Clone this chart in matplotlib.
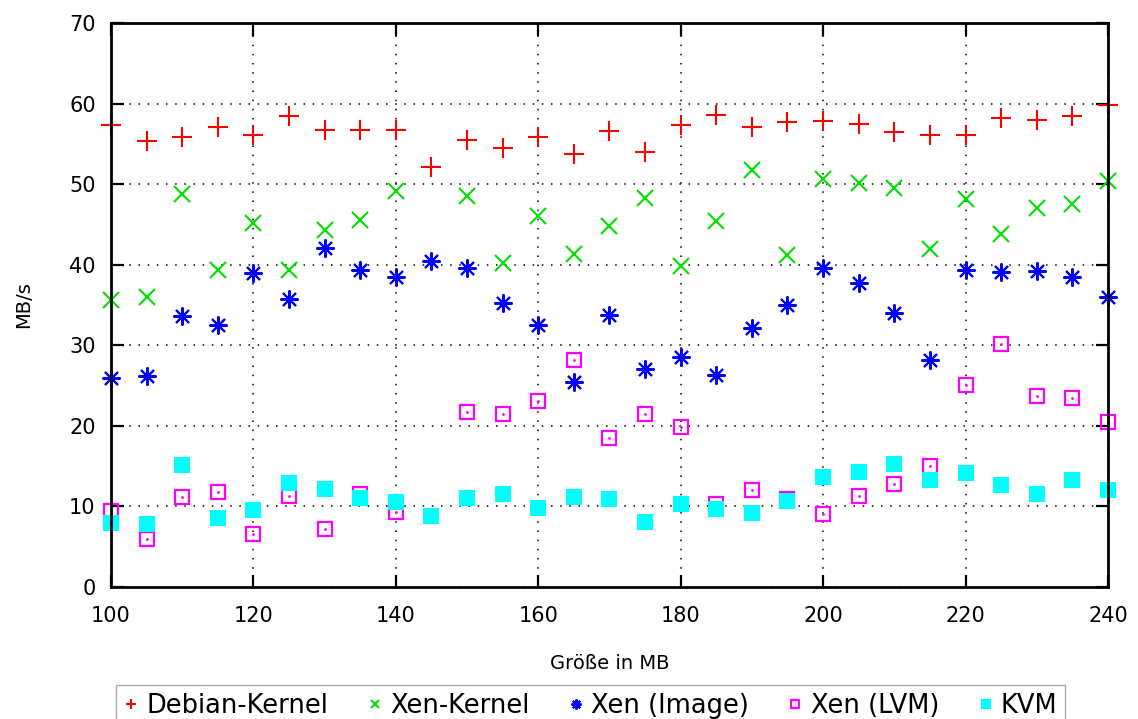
import numpy as np
import matplotlib
matplotlib.use("Agg")
import matplotlib.pyplot as plt

# Daten (MB/s je Dateigroesse)
groesse = list(range(100, 245, 5))

debian_kernel = [57.3, 55.4, 55.9, 57.1, 56.1, 58.4, 56.7, 56.7, 56.7, 52.1,
                 55.5, 54.5, 55.8, 53.8, 56.6, 54.0, 57.3, 58.6, 57.1, 57.7,
                 57.8, 57.5, 56.5, 56.1, 56.1, 58.2, 58.0, 58.4, 59.8]
xen_kernel = [35.6, 36.0, 48.8, 39.3, 45.2, 39.3, 44.3, 45.5, 49.2, np.nan,
              48.5, 40.2, 46.0, 41.3, 44.8, 48.3, 39.9, 45.4, 51.7, 41.2,
              50.7, 50.2, 49.5, 41.9, 48.1, 43.8, 47.1, 47.5, 50.4]
xen_image = [26.0, 26.2, 33.6, 32.5, 39.0, 35.8, 42.1, 39.4, 38.5, 40.4,
             39.6, 35.2, 32.5, 25.4, 33.7, 27.0, 28.6, 26.3, 32.1, 35.0,
             39.6, 37.7, 34.0, 28.2, 39.4, 39.1, 39.2, 38.5, 36.0]
xen_lvm = [9.4, 6.0, 11.2, 11.8, 6.6, 11.3, 7.2, 11.5, 9.3, np.nan,
           21.7, 21.5, 23.1, 28.2, 18.5, 21.5, 19.8, 10.3, 12.1, 10.9,
           9.0, 11.3, 12.8, 15.0, 25.1, 30.2, 23.7, 23.4, 20.5]
kvm = [8.0, 7.8, 15.1, 8.6, 9.6, 12.9, 12.2, 11.0, 10.5, 8.8,
       11.0, 11.5, 9.8, 11.2, 10.9, 8.1, 10.3, 9.7, 9.2, 10.7,
       13.7, 14.3, 15.3, 13.3, 14.1, 12.6, 11.6, 13.3, 12.1]

fig = plt.figure(figsize=(11.38, 7.19), dpi=100)
ax = fig.add_axes([0.0975, 0.1836, 0.8761, 0.7844])

kw = dict(linestyle="none", clip_on=False)
ax.plot(groesse, debian_kernel, marker="+", color="#ff0000", ms=14, mew=1.5,
        label="Debian-Kernel", **kw)
ax.plot(groesse, xen_kernel, marker="x", color="#00e000", ms=11, mew=1.5,
        label="Xen-Kernel", **kw)
ax.plot(groesse, xen_image, marker=(8, 2, 0), color="#0000ff", ms=13, mew=1.5,
        label="Xen (Image)", **kw)
ax.plot(groesse, xen_lvm, marker="s", color="#ff00ff", mfc="none", ms=10,
        mew=1.6, label="Xen (LVM)", **kw)
ax.plot(groesse, xen_lvm, marker=".", color="#ff00ff", ms=2, **kw)
ax.plot(groesse, kvm, marker="s", color="#00ffff", ms=12, mew=0,
        label="KVM", **kw)

ax.set_xlim(100, 240)
ax.set_ylim(0, 70)
ax.set_xticks(range(100, 241, 20))
ax.set_yticks(range(0, 71, 10))
ax.grid(True, color="black", linestyle=(0, (1, 5)), linewidth=1.1)
ax.tick_params(direction="in", length=9, width=1.6, top=True, right=True,
               labelsize=15)
ax.tick_params(axis="x", pad=14)
ax.tick_params(axis="y", pad=11)
for s in ax.spines.values():
    s.set_linewidth(2)

ax.set_xlabel("Größe in MB", fontsize=14, labelpad=20)
ax.set_ylabel("MB/s", fontsize=14, labelpad=26)

handles, labels = ax.get_legend_handles_labels()
leg = fig.legend(handles, labels, loc="upper center", bbox_to_anchor=(0.519, 0.047),
                 ncol=5, fontsize=18.5, handlelength=0.6, handletextpad=0.3,
                 columnspacing=1.5, markerscale=0.55, frameon=True,
                 fancybox=False, edgecolor="#999999", borderpad=0.3,
                 borderaxespad=0)

fig.savefig("out.png", dpi=100)
